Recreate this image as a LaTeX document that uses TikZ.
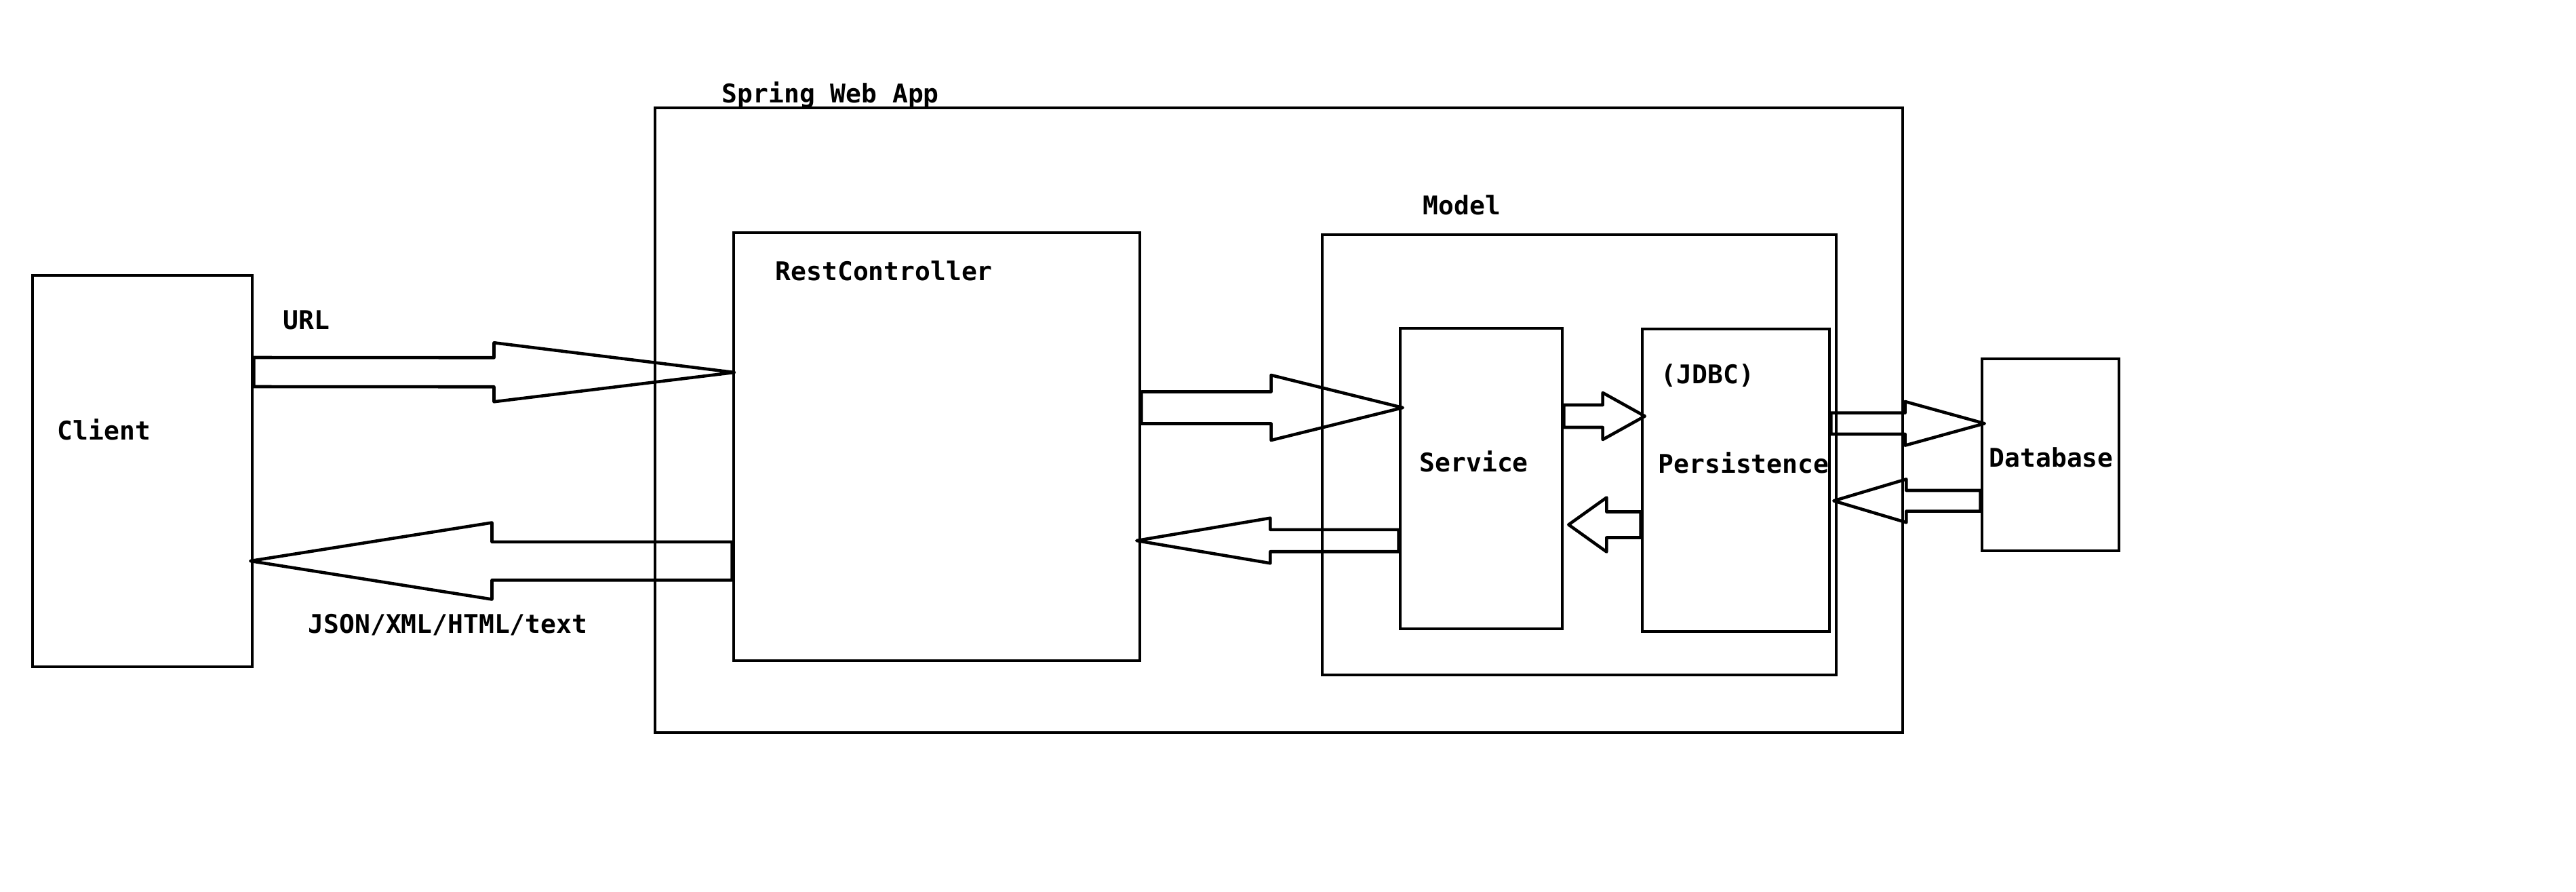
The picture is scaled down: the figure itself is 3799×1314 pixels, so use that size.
\documentclass[tikz,border=0pt]{standalone}
\usepackage{fontspec}
\setmonofont{DejaVu Sans Mono}
\usetikzlibrary{calc,fit}

\tikzset{
  box/.style={draw, line width=1.3pt, inner sep=0pt},
  lbl/.style={anchor=base west, inner sep=0pt, font=\fontsize{10.8}{13}\selectfont\ttfamily\bfseries},
  blockline/.style={draw, line width=1.3pt, line join=round},
}

% hollow block arrow: tail, tip, shaft half width, head half width, head length
\newcommand{\blockarrow}[5]{%
  \path (#1) coordinate (tl) (#2) coordinate (tp);
  \path ($(tp)!#5!(tl)$) coordinate (hb);
  \draw[blockline] ($(tl)+(0,#3)$) -- ($(hb)+(0,#3)$) -- ($(hb)+(0,#4)$) -- (tp)
    -- ($(hb)+(0,-#4)$) -- ($(hb)+(0,-#3)$) -- ($(tl)+(0,-#3)$) -- cycle;
}

\begin{document}
\begin{tikzpicture}[x=0.01cm, y=-0.01cm]

        \useasboundingbox (0,0) rectangle (3799,1314);

        % boxes
        \node[box, fit={(48,406) (372,983)}] (client) {};
        \node[box, fit={(966,159) (2806,1080)}] (app) {};
        \node[box, fit={(1082,343) (1681,974)}] (rest) {};
        \node[box, fit={(1950,346) (2708,995)}] (model) {};
        \node[box, fit={(2065,484) (2304,927)}] (service) {};
        \node[box, fit={(2422,485) (2698,931)}] (persist) {};
        \node[box, fit={(2923,529) (3125,812)}] (db) {};

        % labels
        \node[lbl] (lblapp) at (1064,151) {Spring Web App};
        \node[lbl] (lblrest) at (1143,413) {RestController};
        \node[lbl] (lblclient) at (84,648) {Client};
        \node[lbl] (lblurl) at (417,485) {URL};
        \node[lbl] (lblresp) at (454,933) {JSON/XML/HTML/text};
        \node[lbl] (lblmodel) at (2098,316) {Model};
        \node[lbl] (lblservice) at (2093,695) {Service};
        \node[lbl] (lbljdbc) at (2449,565) {(JDBC)};
        \node[lbl] (lblpersist) at (2445,697) {Persistence};
        \node[lbl] (lbldb) at (2933,688) {Database};

        % arrows
        \blockarrow{client.east |- 0,548.5}{$(rest.west |- 0,549)+(3,0)$}{21.5}{43.5}{3.54cm}
        \blockarrow{rest.west |- 0,827}{$(client.east |- 0,827)+(-5,0)$}{28.2}{56.5}{3.56cm}
        \blockarrow{rest.east |- 0,601}{$(service.west |- 0,601)+(6,0)$}{23.5}{48}{1.94cm}
        \blockarrow{service.west |- 0,797}{$(rest.east |- 0,797)+(-7,0)$}{16.2}{33.3}{1.97cm}
        \blockarrow{service.east |- 0,613.5}{$(persist.west |- 0,613.5)+(6,0)$}{16.5}{34.5}{0.62cm}
        \blockarrow{persist.west |- 0,773.5}{$(service.east |- 0,773.5)+(7,0)$}{19}{40}{0.56cm}
        \blockarrow{persist.east |- 0,624.3}{$(db.west |- 0,624.3)+(6,0)$}{15.7}{32.3}{1.17cm}
        \blockarrow{db.west |- 0,738.3}{$(persist.east |- 0,738.3)+(4,0)$}{15.3}{31.9}{1.07cm}

    \end{tikzpicture}
\end{document}
